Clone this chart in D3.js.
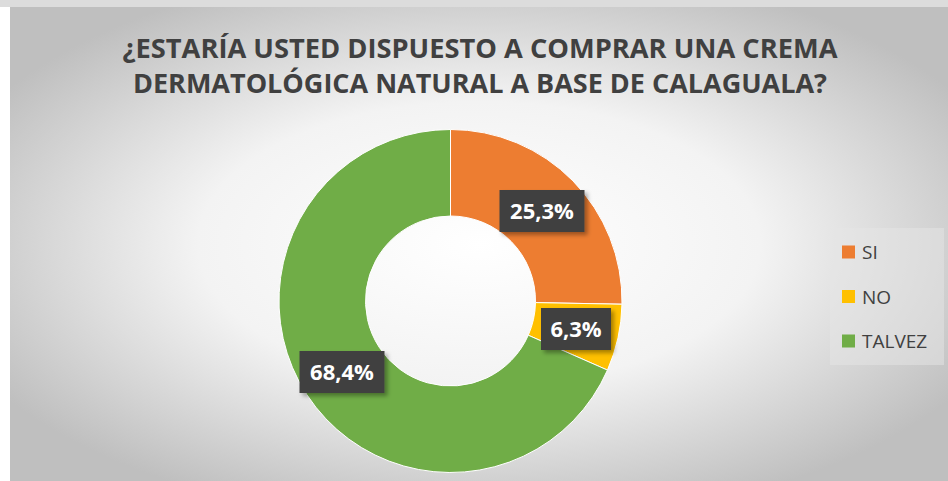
<!DOCTYPE html>
<html><head><meta charset="utf-8">
<script src="https://cdn.jsdelivr.net/npm/d3@7"></script>
<style>body{margin:0;background:#fff}svg{display:block}</style>
</head><body>
<svg id="c" width="948" height="481"></svg>
<script>
const categories = ["SI", "NO", "TALVEZ"];
const values = [25.3, 6.3, 68.4];
const labels = ["25,3%", "6,3%", "68,4%"];
const colors = ["#ED7D31", "#FFC000", "#70AD47"];
const titleLines = ["¿ESTARÍA USTED DISPUESTO A COMPRAR UNA CREMA", "DERMATOLÓGICA NATURAL A BASE DE CALAGUALA?"];

const svg = d3.select("#c");
const defs = svg.append("defs");
const rg = defs.append("radialGradient").attr("id","bg").attr("cx","50%").attr("cy","50%").attr("r","60%");
rg.append("stop").attr("offset","0%").attr("stop-color","#ffffff");
rg.append("stop").attr("offset","50%").attr("stop-color","#f3f3f3");
rg.append("stop").attr("offset","100%").attr("stop-color","#bfbfbf");
const f = defs.append("filter").attr("id","sh").attr("x","-20%").attr("y","-20%").attr("width","150%").attr("height","160%");
f.append("feDropShadow").attr("dx",3).attr("dy",3).attr("stdDeviation",2).attr("flood-color","#000").attr("flood-opacity",0.35);

svg.append("rect").attr("x",0).attr("y",0).attr("width",948).attr("height",7).attr("fill","#dcdcdc");
svg.append("rect").attr("x",10).attr("y",7).attr("width",938).attr("height",474).attr("fill","url(#bg)");

svg.selectAll("text.title").data(titleLines).join("text")
  .attr("class","title")
  .attr("x",480).attr("y",(d,i)=>58+i*35)
  .attr("text-anchor","middle")
  .attr("font-family","'Open Sans', sans-serif").attr("font-weight","bold")
  .attr("font-size",27.5).attr("fill","#404040")
  .attr("textLength",(d,i)=>i===0?715:694).attr("lengthAdjust","spacingAndGlyphs")
  .text(d=>d);

const cx = 450.5, cy = 301, rOut = 171.5, rIn = 85;
const pie = d3.pie().sort(null).value(d=>d.v);
const data = pie(categories.map((c,i)=>({c, v:values[i], l:labels[i], col:colors[i]})));
const arc = d3.arc().innerRadius(rIn).outerRadius(rOut);
const g = svg.append("g").attr("transform",`translate(${cx},${cy})`);
g.selectAll("path").data(data).join("path")
  .attr("d",arc).attr("fill",d=>d.data.col).attr("stroke","#fff").attr("stroke-width",1);

const labelPos = [[542,211],[576,329],[342,372]];
const lg = svg.append("g");
data.forEach((d,i)=>{
  const [x,y] = labelPos[i];
  const w = i===1?70:85, h = 42;
  const gg = lg.append("g").attr("transform",`translate(${x},${y})`);
  gg.append("rect").attr("x",-w/2).attr("y",-h/2).attr("width",w).attr("height",h)
    .attr("fill","#404040").attr("filter","url(#sh)");
  gg.append("text").attr("text-anchor","middle").attr("y",8)
    .attr("font-family","'Open Sans', sans-serif").attr("font-weight","bold")
    .attr("font-size",22).attr("fill","#fff").text(d.data.l);
});

const leg = svg.append("g");
leg.append("rect").attr("x",830).attr("y",228).attr("width",114).attr("height",137).attr("fill","#e6e6e6").attr("opacity",0.5);
const ly = d3.scalePoint().domain(categories).range([252,341]);
categories.forEach((c,i)=>{
  leg.append("rect").attr("x",842).attr("y",ly(c)-6.5).attr("width",13).attr("height",13).attr("fill",colors[i]);
  leg.append("text").attr("x",862).attr("y",ly(c)+7)
    .attr("font-family","'Open Sans', sans-serif").attr("font-size",19).attr("fill","#404040").text(c);
});
</script>
</body></html>
